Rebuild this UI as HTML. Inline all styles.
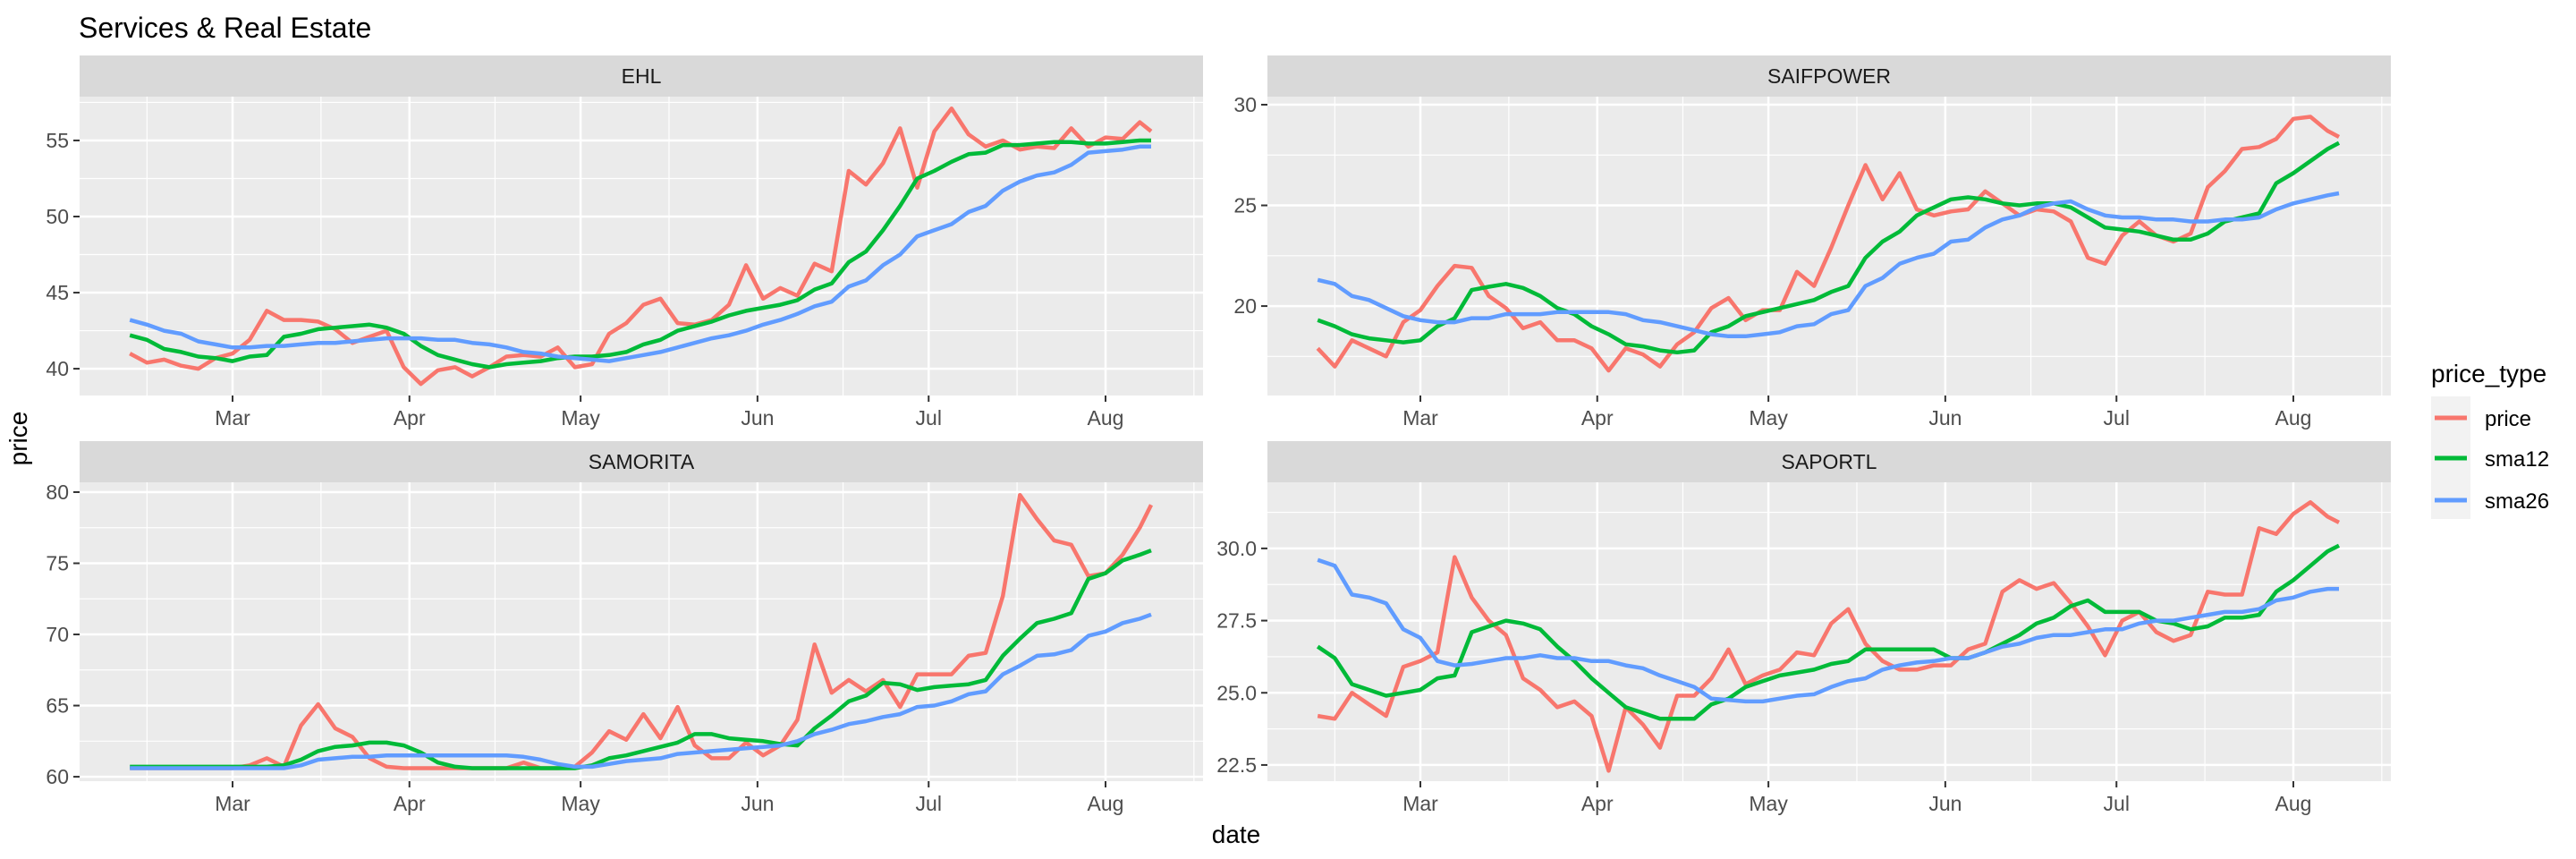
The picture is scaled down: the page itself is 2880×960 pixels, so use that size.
<!DOCTYPE html>
<html><head><meta charset="utf-8"><style>
html,body{margin:0;padding:0;background:#fff;}
svg{display:block;font-family:"Liberation Sans",Arial,sans-serif;}
</style></head><body>
<svg id="chart" width="2880" height="960" viewBox="0 0 2880 960" xmlns="http://www.w3.org/2000/svg">
<text x="88" y="42" font-size="32" fill="#000">Services &amp; Real Estate</text>
<text x="1382" y="942" font-size="28" fill="#000" text-anchor="middle">date</text>
<text transform="translate(30,490) rotate(-90)" font-size="28" fill="#000" text-anchor="middle">price</text>
<g>
<text x="2718" y="427" font-size="28" fill="#000">price_type</text>
<rect x="2718" y="443" width="44" height="137" fill="#F2F2F2"/>
<line x1="2722" x2="2758" y1="467" y2="467" stroke="#F8766D" stroke-width="5"/>
<text x="2778" y="476" font-size="24" fill="#000">price</text>
<line x1="2722" x2="2758" y1="512" y2="512" stroke="#00BA38" stroke-width="5"/>
<text x="2778" y="521" font-size="24" fill="#000">sma12</text>
<line x1="2722" x2="2758" y1="559" y2="559" stroke="#619CFF" stroke-width="5"/>
<text x="2778" y="568" font-size="24" fill="#000">sma26</text>
</g>
</svg>
<script>
// day offsets relative to Mar 1
const dayOffsets = [-18,-15,-12,-9,-6,-3,0,3,6,9,12,15,18,21,24,27,30,33,36,39,42,45,48,51,54,57,60,63,66,69,72,75,78,81,84,87,90,93,96,99,102,105,108,111,114,117,120,123,126,129,132,135,138,141,144,147,150,153,156,159,161];
const monthLabels = ["Mar","Apr","May","Jun","Jul","Aug"];
const monthOffsets = [0,31,61,92,122,153];
const minorOffsets = [-15,15.5,46,76.5,107,137.5,168.5];

const ehlPrice = [41.0,40.4,40.6,40.2,40.0,40.7,41.0,41.9,43.8,43.2,43.2,43.1,42.6,41.7,42.1,42.5,40.1,39.0,39.9,40.1,39.5,40.1,40.8,40.9,40.8,41.4,40.1,40.3,42.3,43.0,44.2,44.6,43.0,42.9,43.2,44.2,46.8,44.6,45.3,44.8,46.9,46.4,53.0,52.1,53.5,55.8,51.9,55.6,57.1,55.4,54.6,55.0,54.4,54.6,54.5,55.8,54.6,55.2,55.1,56.2,55.6];
const ehlSma12 = [42.2,41.9,41.3,41.1,40.8,40.7,40.5,40.8,40.9,42.1,42.3,42.6,42.7,42.8,42.9,42.7,42.3,41.5,40.9,40.6,40.3,40.1,40.3,40.4,40.5,40.7,40.8,40.8,40.9,41.1,41.6,41.9,42.5,42.8,43.1,43.5,43.8,44.0,44.2,44.5,45.2,45.6,47.0,47.7,49.1,50.7,52.5,53.0,53.6,54.1,54.2,54.7,54.7,54.8,54.9,54.9,54.8,54.8,54.9,55.0,55.0];
const ehlSma26 = [43.2,42.9,42.5,42.3,41.8,41.6,41.4,41.4,41.5,41.5,41.6,41.7,41.7,41.8,41.9,42.0,42.0,42.0,41.9,41.9,41.7,41.6,41.4,41.1,41.0,40.8,40.7,40.6,40.5,40.7,40.9,41.1,41.4,41.7,42.0,42.2,42.5,42.9,43.2,43.6,44.1,44.4,45.4,45.8,46.8,47.5,48.7,49.1,49.5,50.3,50.7,51.7,52.3,52.7,52.9,53.4,54.2,54.3,54.4,54.6,54.6];

const saifPrice = [17.9,17.0,18.3,17.9,17.5,19.2,19.8,21.0,22.0,21.9,20.5,19.9,18.9,19.2,18.3,18.3,17.9,16.8,17.9,17.6,17.0,18.1,18.7,19.9,20.4,19.3,19.8,19.8,21.7,21.0,22.9,25.0,27.0,25.3,26.6,24.8,24.5,24.7,24.8,25.7,25.1,24.5,24.8,24.7,24.2,22.4,22.1,23.5,24.2,23.5,23.2,23.6,25.9,26.7,27.8,27.9,28.3,29.3,29.4,28.7,28.4];
const saifSma12 = [19.3,19.0,18.6,18.4,18.3,18.2,18.3,19.0,19.4,20.8,20.96,21.1,20.9,20.5,19.9,19.6,19.0,18.6,18.1,18.0,17.8,17.7,17.8,18.7,19.0,19.5,19.7,19.9,20.1,20.3,20.7,21.0,22.4,23.2,23.7,24.5,24.9,25.3,25.4,25.3,25.1,25.0,25.1,25.1,24.9,24.4,23.9,23.8,23.7,23.5,23.3,23.3,23.6,24.2,24.4,24.6,26.1,26.6,27.2,27.8,28.1];
const saifSma26 = [21.3,21.1,20.5,20.3,19.9,19.5,19.3,19.2,19.2,19.4,19.4,19.6,19.6,19.6,19.7,19.7,19.7,19.7,19.6,19.3,19.2,19.0,18.8,18.6,18.5,18.5,18.6,18.7,19.0,19.1,19.6,19.8,21.0,21.4,22.1,22.4,22.6,23.2,23.3,23.9,24.3,24.5,24.9,25.1,25.2,24.8,24.5,24.4,24.4,24.3,24.3,24.2,24.2,24.3,24.3,24.4,24.8,25.1,25.3,25.5,25.6];

const samPrice = [60.6,60.6,60.6,60.6,60.6,60.6,60.6,60.8,61.3,60.7,63.6,65.1,63.4,62.8,61.3,60.7,60.6,60.6,60.6,60.6,60.6,60.6,60.6,61.0,60.6,60.6,60.7,61.7,63.2,62.6,64.4,62.7,64.9,62.2,61.3,61.3,62.4,61.5,62.2,64.0,69.3,65.9,66.8,66.0,66.8,64.9,67.2,67.2,67.2,68.5,68.7,72.7,79.8,78.1,76.6,76.3,74.1,74.3,75.6,77.5,79.1];
const samSma12 = [60.7,60.7,60.7,60.7,60.7,60.7,60.7,60.7,60.7,60.8,61.2,61.8,62.1,62.2,62.4,62.4,62.2,61.7,61.0,60.7,60.6,60.6,60.6,60.6,60.6,60.6,60.6,60.8,61.3,61.5,61.8,62.1,62.4,63.0,63.0,62.7,62.6,62.5,62.3,62.2,63.4,64.3,65.3,65.7,66.6,66.5,66.1,66.3,66.4,66.5,66.8,68.5,69.7,70.8,71.1,71.5,73.9,74.3,75.2,75.6,75.9];
const samSma26 = [60.6,60.6,60.6,60.6,60.6,60.6,60.6,60.6,60.6,60.6,60.8,61.2,61.3,61.4,61.4,61.5,61.5,61.5,61.5,61.5,61.5,61.5,61.5,61.4,61.2,60.9,60.7,60.7,60.9,61.1,61.2,61.3,61.6,61.7,61.8,61.9,62.0,62.1,62.2,62.5,63.0,63.3,63.7,63.9,64.2,64.4,64.9,65.0,65.3,65.8,66.0,67.2,67.8,68.5,68.6,68.9,69.9,70.2,70.8,71.1,71.4];

const sapPrice = [24.2,24.1,25.0,24.6,24.2,25.9,26.1,26.4,29.7,28.3,27.5,27.0,25.5,25.1,24.5,24.7,24.2,22.3,24.5,23.9,23.1,24.9,24.9,25.5,26.5,25.3,25.6,25.8,26.4,26.3,27.4,27.9,26.7,26.1,25.8,25.8,25.95,25.95,26.5,26.7,28.5,28.9,28.6,28.8,28.1,27.3,26.3,27.5,27.8,27.1,26.8,27.0,28.5,28.4,28.4,30.7,30.5,31.2,31.6,31.1,30.9];
const sapSma12 = [26.6,26.2,25.3,25.1,24.9,25.0,25.1,25.5,25.6,27.1,27.3,27.5,27.4,27.2,26.6,26.1,25.5,25.0,24.5,24.3,24.1,24.1,24.1,24.6,24.8,25.2,25.4,25.6,25.7,25.8,26.0,26.1,26.5,26.5,26.5,26.5,26.5,26.2,26.2,26.4,26.7,27.0,27.4,27.6,28.0,28.2,27.8,27.8,27.8,27.5,27.4,27.2,27.3,27.6,27.6,27.7,28.5,28.9,29.4,29.9,30.1];
const sapSma26 = [29.6,29.4,28.4,28.3,28.1,27.2,26.9,26.1,25.95,26.0,26.1,26.2,26.2,26.3,26.2,26.2,26.1,26.1,25.95,25.85,25.6,25.4,25.2,24.8,24.75,24.7,24.7,24.8,24.9,24.95,25.2,25.4,25.5,25.8,25.95,26.05,26.1,26.2,26.2,26.4,26.6,26.7,26.9,27.0,27.0,27.1,27.2,27.2,27.4,27.5,27.5,27.6,27.7,27.8,27.8,27.9,28.2,28.3,28.5,28.6,28.6];

const ehlTicks = [40,45,50,55];
const saifTicks = [20,25,30];
const samTicks = [60,65,70,75,80];
const sapTicks = [22.5,25,27.5,30];

const NS = "http://www.w3.org/2000/svg";
const svg = document.getElementById("chart");
function mk(tag, attrs, parent){
  const e = document.createElementNS(NS, tag);
  for (const k in attrs) e.setAttribute(k, attrs[k]);
  (parent||svg).appendChild(e);
  return e;
}
const panels = [
  {name:"EHL", key:"ehl", x0:89, x1:1345, sy0:62, py0:108, py1:442, ymin:38.24, ymax:57.88, ticks:ehlTicks, fmt:v=>String(v), series:[ehlPrice,ehlSma12,ehlSma26]},
  {name:"SAIFPOWER", key:"saifpower", x0:1417, x1:2673, sy0:62, py0:108, py1:442, ymin:15.56, ymax:30.4, ticks:saifTicks, fmt:v=>String(v), series:[saifPrice,saifSma12,saifSma26]},
  {name:"SAMORITA", key:"samorita", x0:89, x1:1345, sy0:493, py0:539, py1:873, ymin:59.69, ymax:80.69, ticks:samTicks, fmt:v=>String(v), series:[samPrice,samSma12,samSma26]},
  {name:"SAPORTL", key:"saportl", x0:1417, x1:2673, sy0:493, py0:539, py1:873, ymin:21.94, ymax:32.29, ticks:sapTicks, fmt:v=>v.toFixed(1), series:[sapPrice,sapSma12,sapSma26]}
];
const colors = ["#F8766D","#00BA38","#619CFF"];
const seriesNames = ["price","sma12","sma26"];
const PX_PER_DAY = 6.379;
panels.forEach(p=>{
  const g = mk("g",{});
  
  
  const marchX = p.x0 + 171;
  const xs = d => marchX + d*PX_PER_DAY;
  const ys = v => p.py1 - (v - p.ymin)/(p.ymax - p.ymin)*(p.py1 - p.py0);
  const strip = mk("rect",{x:p.x0,y:p.sy0,width:p.x1-p.x0,height:p.py0-p.sy0,fill:"#D9D9D9"},g);
  
  
  const st = mk("text",{x:(p.x0+p.x1)/2,y:(p.sy0+p.py0)/2+8,"font-size":23,fill:"#1A1A1A","text-anchor":"middle"},g);
  st.textContent = p.name;
  
  
  const bg = mk("rect",{x:p.x0,y:p.py0,width:p.x1-p.x0,height:p.py1-p.py0,fill:"#EBEBEB"},g);
  
  
  // minor y grid
  const step = p.ticks[1]-p.ticks[0];
  for (let v=p.ticks[0]-step/2; v<p.ymax; v+=step){
    if (v<p.ymin) continue;
    const l = mk("line",{x1:p.x0,x2:p.x1,y1:ys(v),y2:ys(v),stroke:"#fff","stroke-width":1.2},g);
    
    
  }
  minorOffsets.forEach(d=>{
    const x = xs(d); if (x<p.x0||x>p.x1) return;
    const l = mk("line",{x1:x,x2:x,y1:p.py0,y2:p.py1,stroke:"#fff","stroke-width":1.2},g);
    
    
  });
  p.ticks.forEach(v=>{
    const y = ys(v);
    const l = mk("line",{x1:p.x0,x2:p.x1,y1:y,y2:y,stroke:"#fff","stroke-width":2.5},g);
    
    
    const t = mk("line",{x1:p.x0-7,x2:p.x0,y1:y,y2:y,stroke:"#333","stroke-width":2},g);
    
    
    const lb = mk("text",{x:p.x0-12,y:y+8,"font-size":23,fill:"#4D4D4D","text-anchor":"end"},g);
    lb.textContent = p.fmt(v);
    
    
  });
  monthOffsets.forEach((d,i)=>{
    const x = xs(d);
    const l = mk("line",{x1:x,x2:x,y1:p.py0,y2:p.py1,stroke:"#fff","stroke-width":2.5},g);
    
    
    const t = mk("line",{x1:x,x2:x,y1:p.py1,y2:p.py1+7,stroke:"#333","stroke-width":2},g);
    
    
    const lb = mk("text",{x:x,y:p.py1+33,"font-size":23,fill:"#4D4D4D","text-anchor":"middle"},g);
    lb.textContent = monthLabels[i];
    
    
  });
  p.series.forEach((vals,si)=>{
    const pts = vals.map((v,i)=>xs(dayOffsets[i]).toFixed(1)+","+ys(v).toFixed(1)).join(" ");
    const pl = mk("polyline",{points:pts,fill:"none",stroke:colors[si],"stroke-width":4.5,"stroke-linejoin":"round","stroke-linecap":"butt"},g);
    
    
  });
});
</script>
</body></html>
